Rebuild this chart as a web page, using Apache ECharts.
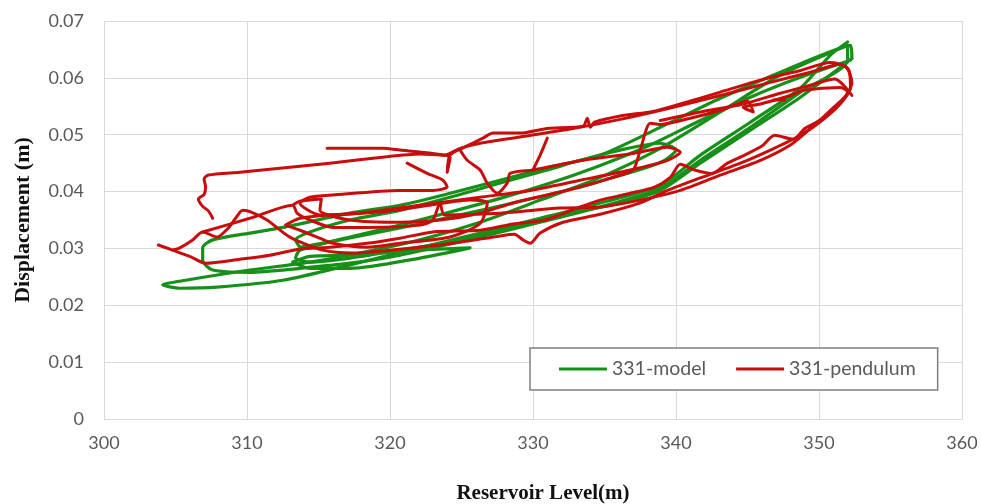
<!DOCTYPE html>
<html>
<head>
<meta charset="utf-8">
<script src="https://cdn.jsdelivr.net/npm/echarts@6/dist/echarts.min.js"></script>
<style>
html, body { margin: 0; padding: 0; background: #ffffff; }
#chart { width: 981px; height: 504px; }
</style>
</head>
<body>
<div id="chart"></div>
<script>
// Axis ranges and tick spacing
const xRange = [300, 360];
const xStep = 10;
const yRange = [0, 0.07];
const yStep = 0.01;

const seriesNames = ['331-model', '331-pendulum'];

// 331-model: reservoir level (m) vs displacement (m), traced as hysteresis loops
const modelLoopA = [
  [352.0,0.0663],[350.8,0.0640],[348.7,0.0582],[345.2,0.0522],[341.7,0.0464],[338.9,0.0411],
  [334.7,0.0380],[330.5,0.0353],[326.3,0.0327],[320.7,0.0293],[317.2,0.0271],[312.5,0.0244],
  [307.9,0.0232],[305.3,0.0230],[304.1,0.0236],[305.7,0.0244],[310.2,0.0262],[314.4,0.0276],
  [317.9,0.0292],[322.1,0.0315],[326.3,0.0346],[330.5,0.0385],[334.7,0.0425],[338.9,0.0476],
  [343.1,0.0540],[347.3,0.0605],[352.0,0.0657]
];
const modelLoopB = [
  [352.0,0.0657],[352.0,0.0631],[348.7,0.0575],[345.2,0.0513],[341.7,0.0455],[338.9,0.0406],
  [334.7,0.0373],[330.5,0.0346],[326.3,0.0320],[320.7,0.0288],[317.2,0.0274],[313.7,0.0265],
  [310.2,0.0258],[307.6,0.0262],[306.9,0.0279],[306.9,0.0301],[307.6,0.0315],[310.2,0.0327],
  [312.5,0.0337],[317.2,0.0362],[320.7,0.0376],[324.2,0.0397],[327.7,0.0420],[331.2,0.0443],
  [334.7,0.0464],[338.9,0.0513],[343.1,0.0564],[347.3,0.0610],[352.2,0.0657],[352.3,0.0634]
];
const modelLoopC = [
  [352.3,0.0634],[348.7,0.0566],[345.2,0.0508],[341.7,0.0450],[338.9,0.0402],[335.4,0.0376],
  [331.9,0.0359],[327.7,0.0332],[324.2,0.0311],[320.7,0.0297],[317.2,0.0283],[314.4,0.0276],
  [313.4,0.0283],[313.7,0.0297],[317.2,0.0320],[320.7,0.0341],[324.2,0.0364],[327.7,0.0388],
  [331.2,0.0415],[334.7,0.0446],[338.2,0.0482],[341.7,0.0525],[345.2,0.0566],[348.7,0.0601],
  [352.2,0.0631]
];
const modelLoopD = [
  [313.7,0.0302],[316.5,0.0315],[320.7,0.0336],[324.9,0.0359],[328.6,0.0380],[331.0,0.0394],
  [333.3,0.0408],[335.6,0.0425],[338.0,0.0443],[339.2,0.0455],[340.0,0.0473],[338.9,0.0485],
  [336.1,0.0473],[333.3,0.0455],[331.0,0.0438],[327.7,0.0415],[324.2,0.0390],[320.7,0.0367],
  [317.2,0.0350],[314.4,0.0329],[313.4,0.0315],[313.7,0.0302]
];
const modelLoopE = [
  [313.2,0.0276],[314.4,0.0265],[317.2,0.0265],[322.1,0.0283],[325.6,0.0301],[322.1,0.0297],
  [317.2,0.0288],[314.4,0.0286],[313.2,0.0276]
];

// 331-pendulum: measured displacement vs reservoir level
const pendulumPathA = [
  [307.6,0.0353],[307.3,0.0366],[306.9,0.0374],[306.6,0.0387],[307.0,0.0395],[307.1,0.0409],
  [307.0,0.0422],[307.3,0.0429],[309.5,0.0434],[312.3,0.0441],[315.8,0.0450],[319.3,0.0460],
  [322.1,0.0466],[323.8,0.0464],[324.9,0.0476],[326.3,0.0485],[329.1,0.0496],[332.6,0.0510],
  [336.1,0.0527],[339.6,0.0547],[343.1,0.0569],[346.6,0.0592],[349.4,0.0610],[351.5,0.0624],
  [352.1,0.0613],[352.2,0.0582],[351.8,0.0564],[350.8,0.0538],[349.7,0.0520],[349.0,0.0511],
  [348.2,0.0492],[346.9,0.0499],[346.0,0.0480],[344.8,0.0464],[343.6,0.0450],[342.5,0.0432],
  [341.3,0.0438],[340.3,0.0448],[339.6,0.0425],[338.5,0.0408],[336.8,0.0397],[334.7,0.0385],
  [333.3,0.0373],[331.0,0.0351],[328.6,0.0343],[326.3,0.0332],[323.0,0.0329],[320.7,0.0318],
  [318.4,0.0309],[315.8,0.0302],[313.7,0.0299],[311.6,0.0288],[309.5,0.0281],[307.1,0.0274],
  [306.0,0.0286],[304.8,0.0297],[303.8,0.0306]
];
const pendulumPathB = [
  [304.8,0.0297],[305.3,0.0301],[306.2,0.0315],[306.9,0.0329],[307.9,0.0320],[308.7,0.0336],
  [309.2,0.0353],[309.7,0.0367],[310.3,0.0364],[311.4,0.0350],[313.0,0.0320],[315.3,0.0297],
  [317.4,0.0292],[320.0,0.0297],[322.1,0.0302],[324.9,0.0311],[327.7,0.0322],[328.7,0.0325],
  [329.3,0.0315],[329.8,0.0309],[330.5,0.0327],[332.1,0.0346],[334.7,0.0360],[337.5,0.0380],
  [339.4,0.0402],[341.7,0.0424],[344.5,0.0450],[346.6,0.0473],[348.7,0.0499],[350.4,0.0529],
  [351.7,0.0561],[352.3,0.0592],[351.9,0.0619],[350.8,0.0627],[348.7,0.0613],[345.9,0.0596],
  [343.1,0.0575],[340.3,0.0554],[338.4,0.0541],[336.1,0.0533],[334.3,0.0522],[334.0,0.0513],
  [333.8,0.0529],[333.5,0.0515],[331.0,0.0511],[329.1,0.0503],[327.2,0.0503],[326.5,0.0494],
  [325.2,0.0478],[324.2,0.0464],[324.0,0.0434],[324.2,0.0460],[323.0,0.0467],[320.7,0.0473],
  [319.5,0.0476],[317.2,0.0476],[315.6,0.0476]
];
const pendulumPathC = [
  [306.9,0.0329],[310.2,0.0353],[313.2,0.0376],[313.5,0.0362],[314.4,0.0350],[316.0,0.0337],
  [318.4,0.0337],[322.1,0.0341],[323.0,0.0350],[323.5,0.0380],[323.8,0.0359],[327.7,0.0362],
  [331.9,0.0371],[334.7,0.0373],[337.5,0.0385],[340.3,0.0402],[343.1,0.0429],[345.9,0.0455],
  [348.0,0.0482],[349.4,0.0511],[350.8,0.0543],[352.0,0.0575],[351.5,0.0583],[348.9,0.0578],
  [348.0,0.0569],[345.9,0.0554],[344.7,0.0548],[345.4,0.0540],[345.0,0.0559],[343.1,0.0543],
  [341.0,0.0529],[338.9,0.0518],[338.2,0.0520],[337.5,0.0473],[337.0,0.0438],[335.6,0.0425],
  [333.3,0.0408],[331.0,0.0394],[328.6,0.0380],[326.3,0.0362],[323.5,0.0350],[320.7,0.0346],
  [317.2,0.0350],[315.1,0.0367],[315.2,0.0387],[313.7,0.0383],[313.2,0.0376]
];
const pendulumPathD = [
  [321.2,0.0450],[322.6,0.0432],[323.7,0.0420],[324.0,0.0408],[323.0,0.0402],[320.7,0.0402],
  [316.0,0.0394],[314.4,0.0390],[313.7,0.0380],[315.1,0.0359],[317.9,0.0362],[322.1,0.0376],
  [326.3,0.0390],[329.8,0.0402],[333.3,0.0420],[336.8,0.0438],[339.4,0.0455],[340.3,0.0469],
  [339.4,0.0478],[337.0,0.0467],[333.5,0.0455],[330.0,0.0438],[328.4,0.0432],[328.2,0.0415],
  [327.5,0.0397],[326.8,0.0415],[326.3,0.0438],[325.4,0.0455],[324.9,0.0473]
];
const pendulumPathE = [
  [312.7,0.0341],[313.7,0.0332],[314.9,0.0320],[316.0,0.0309],[318.4,0.0302],[320.7,0.0309],
  [324.2,0.0320],[326.3,0.0344],[326.8,0.0380],[325.6,0.0385],[322.8,0.0376],[319.3,0.0364],
  [315.8,0.0359],[313.7,0.0353],[312.7,0.0341]
];
const pendulumPathF = [[331.0,0.0494],[330.5,0.0464],[330.0,0.0438]];
const pendulumPathG = [[346.8,0.0561],[347.6,0.0561]];
const pendulumPathH = [
  [338.9,0.0525],[341.7,0.0540],[344.7,0.0554],[347.3,0.0573],[349.4,0.0587],[351.1,0.0598],
  [352.3,0.0569]
];

const modelLoops = [modelLoopA, modelLoopB, modelLoopC, modelLoopD, modelLoopE];
const pendulumPaths = [pendulumPathA, pendulumPathB, pendulumPathC, pendulumPathD,
                       pendulumPathE, pendulumPathF, pendulumPathG, pendulumPathH];

const GREEN = '#17901a';
const RED = '#c80d0d';
const LABEL_GREY = '#595959';
const GRID_GREY = '#d9d9d9';

function lineSeries(name, data, color, width) {
  return {
    name: name,
    type: 'line',
    data: data,
    symbol: 'none',
    showSymbol: false,
    smooth: 0.25,
    lineStyle: { color: color, width: width, join: 'round', cap: 'round' },
    itemStyle: { color: color },
    emphasis: { disabled: true },
    silent: true
  };
}

const series = [];
modelLoops.forEach(d => series.push(lineSeries(seriesNames[0], d, GREEN, 3.2)));
pendulumPaths.forEach(d => series.push(lineSeries(seriesNames[1], d, RED, 3)));

const chart = echarts.init(document.getElementById('chart'), null, { renderer: 'canvas' });
chart.setOption({
  animation: false,
  backgroundColor: '#ffffff',
  grid: {
    left: 104, right: 19, top: 21, bottom: 85,
    containLabel: false,
    outerBoundsMode: 'none'
  },
  xAxis: {
    type: 'value',
    min: xRange[0], max: xRange[1], interval: xStep,
    name: 'Reservoir Level(m)',
    nameLocation: 'middle',
    nameGap: 64,
    nameTextStyle: {
      fontFamily: 'Liberation Serif', fontWeight: 'bold', fontSize: 21, color: '#111111',
      padding: [0, 0, 0, 20]
    },
    axisLine: { show: true, lineStyle: { color: GRID_GREY, width: 1 } },
    axisTick: { show: false },
    axisLabel: { color: LABEL_GREY, fontFamily: 'Lato', fontSize: 18, margin: 15 },
    splitLine: { show: true, lineStyle: { color: GRID_GREY, width: 1 } }
  },
  yAxis: {
    type: 'value',
    min: yRange[0], max: yRange[1], interval: yStep,
    name: 'Displacement (m)',
    nameLocation: 'middle',
    nameGap: 70,
    nameRotate: 90,
    nameTextStyle: {
      fontFamily: 'Liberation Serif', fontWeight: 'bold', fontSize: 22, color: '#111111'
    },
    axisLine: { show: false },
    axisTick: { show: false },
    axisLabel: {
      color: LABEL_GREY, fontFamily: 'Lato', fontSize: 18, margin: 20,
      formatter: v => String(Number(v.toFixed(2)))
    },
    splitLine: { show: true, lineStyle: { color: GRID_GREY, width: 1 } }
  },
  legend: {
    data: [
      { name: seriesNames[0], icon: 'rect' },
      { name: seriesNames[1], icon: 'rect' }
    ],
    left: 530, top: 348,
    orient: 'horizontal',
    itemWidth: 48, itemHeight: 3, itemGap: 30,
    padding: [11, 22, 11, 29],
    backgroundColor: '#ffffff',
    borderColor: '#7f7f7f', borderWidth: 1.5,
    textStyle: { color: LABEL_GREY, fontFamily: 'Lato', fontSize: 19.5 },
    selectedMode: false
  },
  series: series
});
</script>
</body>
</html>
